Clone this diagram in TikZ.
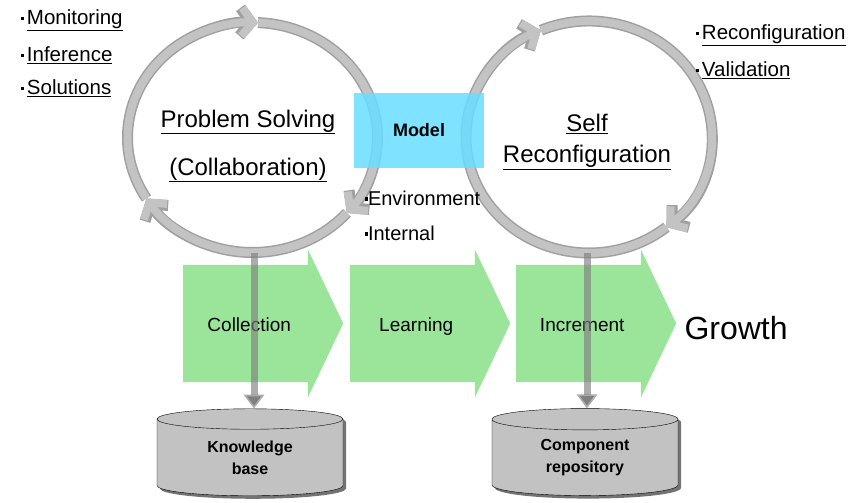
\documentclass[tikz,border=0pt]{standalone}
\usepackage{fontspec}
\setmainfont{Liberation Sans}
\usepackage{tikz}
\usetikzlibrary{arrows.meta}
\usetikzlibrary{shapes.arrows}
\usetikzlibrary{shapes.geometric}
\usetikzlibrary{shadows}

\definecolor{stagegreen}{RGB}{155,229,155}
\definecolor{ringgray}{RGB}{195,195,195}
\definecolor{ringedge}{RGB}{160,160,160}
\definecolor{modelcyan}{RGB}{105,221,255}
\definecolor{dbgray}{RGB}{194,194,194}

\newcommand{\sqitem}[1]{\rule[0.4ex]{3pt}{3pt}\,\underline{#1}}
\newcommand{\sqtext}[1]{\rule[0.4ex]{3.5pt}{3.5pt}#1}

\tikzset{
  ring/.style={draw=ringgray, line width=8pt,
    preaction={draw=ringedge, line width=11pt},
    -{Straight Barb[length=11pt,width=28pt]}},
  stage/.style={single arrow, fill=stagegreen, anchor=tail,
    minimum height=160, inner xsep=0pt, inner ysep=0pt,
    text height=66pt, text depth=51pt,
    single arrow head extend=15.5pt, single arrow tip angle=129,
    font=\fontsize{19}{21}\selectfont},
  store/.style={cylinder, shape border rotate=90, aspect=0.24, draw, fill=dbgray,
    minimum width=186, minimum height=87, inner sep=0pt,
    drop shadow={shadow xshift=3pt, shadow yshift=-3pt, fill=black!55, opacity=1},
    align=center, font=\bfseries\fontsize{16}{22}\selectfont},
  feed/.style={draw=gray, draw opacity=0.65, line width=7pt,
    -{Triangle[length=14pt,width=20pt]}},
  notes/.style={anchor=west, font=\fontsize{20.5}{22}\selectfont},
}

\begin{document}
\begin{tikzpicture}[x=1pt, y=-1pt]
\useasboundingbox (0,0) rectangle (859,503);

% growth stages
\node[stage] (Collection) at (183,323.5) {Collection};
\node[stage] (Learning) at (350,323.5) {Learning};
\node[stage] (Increment) at (516,323.5) {Increment};
\node[anchor=west, font=\fontsize{32}{34}\selectfont] (Growth) at (681,328) {Growth};

% the two cycles
\coordinate (PS) at (252.5,137.5);
\coordinate (SR) at (589,137);
\draw[ring] (PS) ++(148:125 and 115) arc[start angle=148, end angle=272.5, x radius=125, y radius=115];
\draw[ring] (PS) ++(272.5:125 and 115) arc[start angle=272.5, end angle=401, x radius=125, y radius=115];
\draw[ring] (PS) ++(41:125 and 115) arc[start angle=41, end angle=148, x radius=125, y radius=115];
\draw[ring] (SR) ++(-113:123 and 116) arc[start angle=-113, end angle=51, x radius=123, y radius=116];
\draw[ring] (SR) ++(51:123 and 116) arc[start angle=51, end angle=247, x radius=123, y radius=116];

\node[align=center, font=\fontsize{24}{29}\selectfont] (PSText) at (248,146)
  {\underline{Problem Solving}\\[19pt]\underline{(Collaboration)}};
\node[align=center, font=\fontsize{24}{31}\selectfont] (SRText) at (587,142)
  {\underline{Self}\\\underline{Reconfiguration}};

% shared model
\node[fill=modelcyan, fill opacity=0.85, text opacity=1, minimum width=130, minimum height=75,
  font=\bfseries\fontsize{18}{20}\selectfont] (Model) at (419,130.5) {Model};
\node[notes, font=\fontsize{20}{22}\selectfont] (Env) at (361,198) {\sqtext{Environment}};
\node[notes, font=\fontsize{20}{22}\selectfont] (Int) at (361,233) {\sqtext{Internal}};

% activities
\node[notes] (Mon) at (17,20) {\sqitem{Monitoring}};
\node[notes] (Inf) at (17,55) {\sqitem{Inference}};
\node[notes] (Sol) at (17,88) {\sqitem{Solutions}};
\node[notes] (Rec) at (692,35) {\sqitem{Reconfiguration}};
\node[notes] (Val) at (692,70) {\sqitem{Validation}};

% stores
\node[store] (KB) at (250,457.5) {Knowledge\\base};
\node[store] (CR) at (585,457.5) {Component\\repository};

\coordinate (PSout) at (254,253);
\coordinate (SRout) at (587,253);
\draw[feed] (PSout) -- (PSout |- KB.top);
\draw[feed] (SRout) -- (SRout |- CR.top);

\end{tikzpicture}
\end{document}
